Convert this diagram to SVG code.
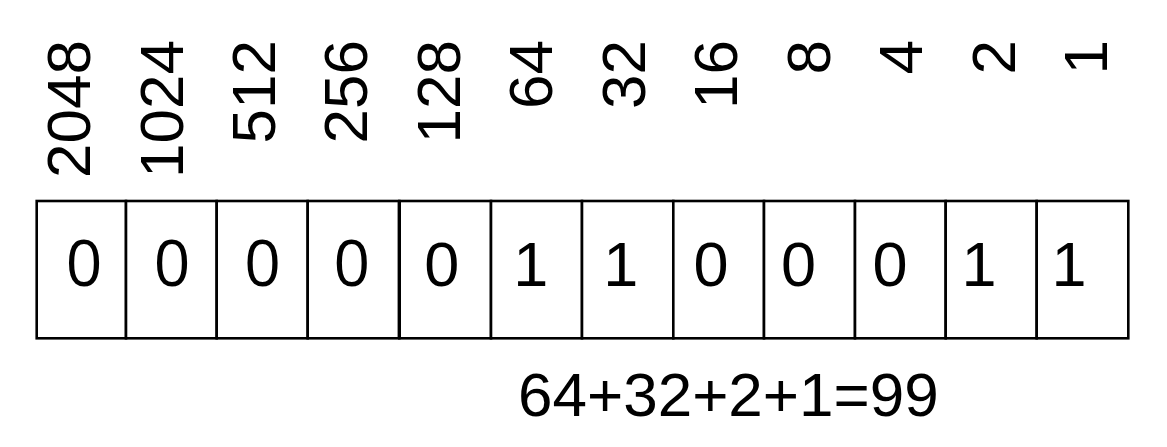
<svg xmlns="http://www.w3.org/2000/svg" width="1167" height="447" viewBox="0 0 1167 447">
<style>
.cell{fill:#fff;stroke:#000;stroke-width:2.6}
.bit{font-family:"Liberation Sans",Arial,sans-serif;font-size:63px;fill:#000;text-anchor:middle}
.bitb{font-family:"Open Sans","Noto Sans",sans-serif;font-size:64px;fill:#000;text-anchor:middle}
.lbl{font-family:"Liberation Sans",Arial,sans-serif;font-size:62px;fill:#000;text-anchor:end}
.sum{font-family:"Liberation Sans",Arial,sans-serif;font-size:62px;fill:#000}
</style>
<rect width="1167" height="447" fill="#fff"/>
<g id="bit11"><rect class="cell" x="36.7" y="201" width="89.3" height="137.3"/><text class="bitb" x="84" y="286">0</text><text class="lbl" transform="translate(90,40) rotate(-90)">2048</text></g>
<g id="bit10"><rect class="cell" x="126" y="201" width="90.7" height="137.3"/><text class="bitb" x="172" y="286">0</text><text class="lbl" transform="translate(183,40) rotate(-90)">1024</text></g>
<g id="bit9"><rect class="cell" x="216.7" y="201" width="91" height="137.3"/><text class="bitb" x="262.5" y="286">0</text><text class="lbl" transform="translate(275,40) rotate(-90)">512</text></g>
<g id="bit8"><rect class="cell" x="307.7" y="201" width="91.6" height="137.3"/><text class="bitb" x="351.7" y="286">0</text><text class="lbl" transform="translate(367,40) rotate(-90)">256</text></g>
<g id="bit7"><rect class="cell" x="399.3" y="201" width="91.7" height="137.3"/><line x1="399.3" y1="201" x2="399.3" y2="338.3" stroke="#000" stroke-width="3.4"/><text class="bit" x="441.8" y="285.5">0</text><text class="lbl" transform="translate(460,40) rotate(-90)">128</text></g>
<g id="bit6"><rect class="cell" x="491" y="201" width="91" height="137.3"/><text class="bit" x="530.8" y="285.5">1</text><text class="lbl" transform="translate(552,40) rotate(-90)">64</text></g>
<g id="bit5"><rect class="cell" x="582" y="201" width="91.3" height="137.3"/><text class="bit" x="620.8" y="285.5">1</text><text class="lbl" transform="translate(645,40) rotate(-90)">32</text></g>
<g id="bit4"><rect class="cell" x="673.3" y="201" width="90.7" height="137.3"/><text class="bit" x="711.1" y="285.5">0</text><text class="lbl" transform="translate(737,40) rotate(-90)">16</text></g>
<g id="bit3"><rect class="cell" x="764" y="201" width="91" height="137.3"/><text class="bit" x="798.4" y="285.5">0</text><text class="lbl" transform="translate(830,40) rotate(-90)">8</text></g>
<g id="bit2"><rect class="cell" x="855" y="201" width="90.7" height="137.3"/><text class="bit" x="890.1" y="285.5">0</text><text class="lbl" transform="translate(922,40) rotate(-90)">4</text></g>
<g id="bit1"><rect class="cell" x="945.7" y="201" width="91" height="137.3"/><text class="bit" x="979.1" y="285.5">1</text><text class="lbl" transform="translate(1015,40) rotate(-90)">2</text></g>
<g id="bit0"><rect class="cell" x="1036.7" y="201" width="91.6" height="137.3"/><text class="bit" x="1069.1" y="285.5">1</text><text class="lbl" transform="translate(1107,40) rotate(-90)">1</text></g>
<g id="total"><text class="sum" x="518" y="415.5">64+32+2+1=99</text></g>
</svg>
